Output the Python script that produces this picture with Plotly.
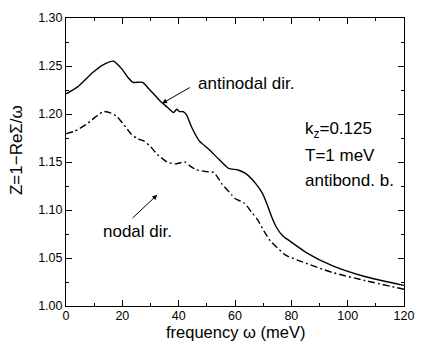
import plotly.graph_objects as go

# Antinodal direction (solid)
omega_anti = [0, 4, 9.4, 13, 16.9, 19.8, 22, 23.8, 27.2, 29.5, 33.6, 36, 38.2, 39.3, 40.3, 41.6,
              42.8, 44.5, 47.3, 50.8, 54.2, 57.7, 61.1, 64, 67.5, 69.8, 71.5, 73, 74.9, 77, 79.5,
              85.3, 94.5, 106, 120]
Z_anti = [1.221, 1.228, 1.243, 1.251, 1.255, 1.247, 1.238, 1.233, 1.233, 1.226, 1.213, 1.207,
          1.2015, 1.205, 1.2025, 1.2025, 1.199, 1.187, 1.172, 1.163, 1.153, 1.1434, 1.1417, 1.1376,
          1.127, 1.117, 1.105, 1.093, 1.081, 1.073, 1.0676, 1.0557, 1.042, 1.0307, 1.0215]

# Nodal direction (dash-dot)
omega_nod = [0, 3, 7.1, 10.5, 13.4, 16, 18, 20.5, 23.2, 25.5, 27.8, 30, 32.4, 35.9, 38.7, 42.2,
             44, 46.2, 49.7, 52.5, 55.4, 58.9, 60, 63.4, 65.8, 68, 70.3, 72.5, 74.9, 78, 82.9,
             94.5, 106, 120]
Z_nod = [1.1795, 1.182, 1.189, 1.197, 1.2026, 1.201, 1.1975, 1.189, 1.179, 1.174, 1.1718, 1.166,
         1.158, 1.150, 1.148, 1.150, 1.146, 1.142, 1.140, 1.139, 1.127, 1.1155, 1.112, 1.107,
         1.098, 1.090, 1.078, 1.068, 1.061, 1.053, 1.047, 1.035, 1.0266, 1.0174]

x_ticks = [0, 20, 40, 60, 80, 100, 120]
y_ticks = [1.00, 1.05, 1.10, 1.15, 1.20, 1.25, 1.30]

FONT = "Liberation Sans, Arial, sans-serif"

fig = go.Figure()
fig.add_trace(go.Scatter(x=omega_anti, y=Z_anti, mode="lines",
                         line=dict(color="black", width=1.4, shape="spline", smoothing=0.6)))
fig.add_trace(go.Scatter(x=omega_nod, y=Z_nod, mode="lines",
                         line=dict(color="black", width=1.4, shape="spline", smoothing=0.6,
                                   dash="7px,3px,2px,3px")))

axis_common = dict(showgrid=False, zeroline=False, showline=True, linecolor="black", linewidth=1,
                   mirror="ticks", ticks="inside", ticklen=6, tickwidth=1, tickcolor="black",
                   tickfont=dict(family=FONT, size=12.5, color="black"))

fig.update_xaxes(range=[0, 120], tickvals=x_ticks, ticklabelstandoff=-2,
                 minor=dict(dtick=10, ticks="inside", ticklen=3, tickcolor="black", showgrid=False),
                 **axis_common)
fig.update_yaxes(range=[1.00, 1.30], tickvals=y_ticks, tickformat=".2f",
                 minor=dict(dtick=0.025, ticks="inside", ticklen=3, tickcolor="black", showgrid=False),
                 **axis_common)

ann_font = dict(family=FONT, size=17, color="black")
anns = [
    dict(x=46.2, y=1.2316, xref="x", yref="y", text="antinodal dir.", showarrow=False,
         xanchor="left", yanchor="middle", font=ann_font),
    dict(x=34.1, y=1.211, ax=44.5, ay=1.2285, xref="x", yref="y", axref="x", ayref="y",
         text="", showarrow=True, arrowhead=2, arrowsize=1, arrowwidth=1, arrowcolor="black"),
    dict(x=12.3, y=1.0779, xref="x", yref="y", text="nodal dir.", showarrow=False,
         xanchor="left", yanchor="middle", font=ann_font),
    dict(x=32.4, y=1.1158, ax=23.1, ay=1.0902, xref="x", yref="y", axref="x", ayref="y",
         text="", showarrow=True, arrowhead=2, arrowsize=1, arrowwidth=1, arrowcolor="black"),
    dict(x=84.1, y=1.1834, xref="x", yref="y", text="k<sub>z</sub>=0.125", showarrow=False,
         xanchor="left", yanchor="middle", font=ann_font),
    dict(x=84.1, y=1.1568, xref="x", yref="y", text="T=1 meV", showarrow=False,
         xanchor="left", yanchor="middle", font=ann_font),
    dict(x=84.1, y=1.1311, xref="x", yref="y", text="antibond. b.", showarrow=False,
         xanchor="left", yanchor="middle", font=ann_font),
    dict(x=0.5, y=-0.092, xref="paper", yref="paper", text="frequency ω (meV)", showarrow=False,
         xanchor="center", yanchor="middle", font=dict(family=FONT, size=16.5, color="black")),
    dict(x=-0.1466, y=0.543, xref="paper", yref="paper", text="Z=1−ReΣ/ω", showarrow=False,
         textangle=-90, xanchor="center", yanchor="middle", font=ann_font),
]
fig.update_layout(annotations=anns, width=425, height=341,
                  margin=dict(l=66, r=11, t=13, b=35),
                  plot_bgcolor="white", paper_bgcolor="white", showlegend=False,
                  font=dict(family=FONT, color="black"))

fig.write_html("out.html")
